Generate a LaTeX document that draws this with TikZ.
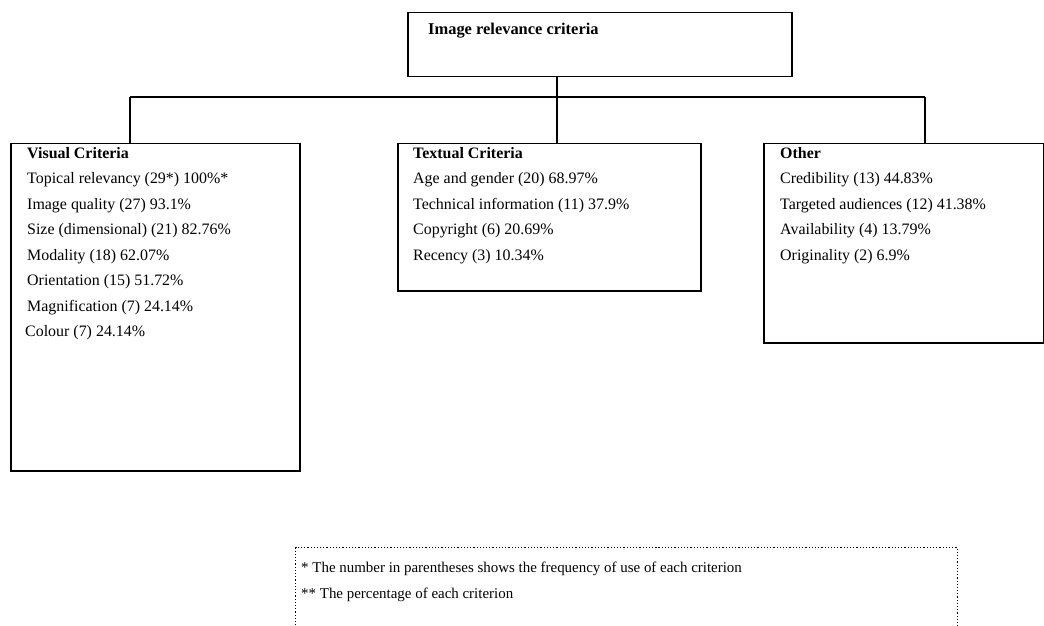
\documentclass[tikz,border=0pt]{standalone}
\usepackage{fontspec}
\setmainfont{Liberation Serif}
\begin{document}
\begin{tikzpicture}[x=1bp,y=-1bp,
  box/.style={draw=black,line width=1.5bp,anchor=north west,inner sep=0pt},
  link/.style={draw=black,line width=1.5bp},
  txt/.style={anchor=north west,align=left,inner sep=0pt,
    font=\fontsize{16}{25.6}\selectfont},
  note/.style={draw=black,line width=1.2bp,dotted,anchor=north west,inner sep=0pt}]
\useasboundingbox (0,0) rectangle (1044,626);

% boxes
\node[box,minimum width=384bp,minimum height=64bp] (root) at (407,12) {};
\node[box,minimum width=289bp,minimum height=327bp] (vis) at (10,143) {};
\node[box,minimum width=303bp,minimum height=147bp] (tex) at (397,143) {};
\node[box,minimum width=280bp,minimum height=199bp] (oth) at (763,143) {};
\node[note,minimum width=662bp,minimum height=100bp] (key) at (295,547) {};

% tree connectors
\coordinate (hub) at (557,97);
\coordinate (cv) at (130,97);
\coordinate (ct) at (557,97);
\coordinate (co) at (925,97);
\draw[link] (hub |- root.south) -- (hub);
\draw[link] (cv) -- (co);
\draw[link] (cv) -- (cv |- vis.north);
\draw[link] (ct) -- (ct |- tex.north);
\draw[link] (co) -- (co |- oth.north);

% texts
\node[txt,font=\fontsize{16.5}{20}\selectfont\bfseries] (title) at (428,23) {Image relevance criteria};
\node[txt] (vt) at (27,147) {\textbf{Visual Criteria}\\
Topical relevancy (29*) 100\%*\\
Image quality (27) 93.1\%\\
Size (dimensional) (21) 82.76\%\\
Modality (18) 62.07\%\\
Orientation (15) 51.72\%\\
Magnification (7) 24.14\%\\
\hspace*{-2bp}Colour (7) 24.14\%};
\node[txt] (tt) at (413,147) {\textbf{Textual Criteria}\\
Age and gender (20) 68.97\%\\
Technical information (11) 37.9\%\\
Copyright (6) 20.69\%\\
Recency (3) 10.34\%};
\node[txt] (ot) at (780,147) {\textbf{Other}\\
Credibility (13) 44.83\%\\
Targeted audiences (12) 41.38\%\\
Availability (4) 13.79\%\\
Originality (2) 6.9\%};
\node[txt,font=\fontsize{15}{26}\selectfont] (kt) at (301,562) {* The number in parentheses shows the frequency of use of each criterion\\
** The percentage of each criterion};
\end{tikzpicture}
\end{document}
